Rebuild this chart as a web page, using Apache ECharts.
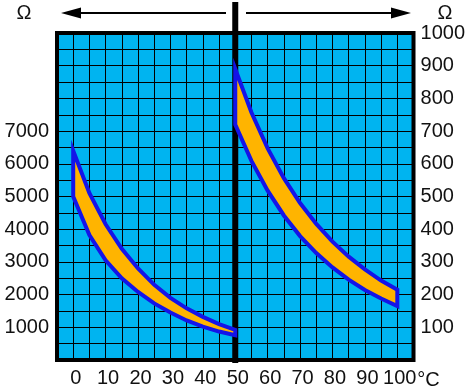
<!DOCTYPE html>
<html><head><meta charset="utf-8">
<script src="https://cdn.jsdelivr.net/npm/echarts@6/dist/echarts.min.js"></script>
<style>html,body{margin:0;padding:0;background:#fff}#c{width:468px;height:388px}</style>
</head><body><div id="c"></div>
<script>
// Temperature (°C) sample points
const tempLeft = [0, 5, 10, 15, 20, 25, 30, 35, 40, 45, 50];
const upperLeft = [6400, 5100, 4150, 3400, 2800, 2300, 1900, 1580, 1320, 1100, 920];
const lowerLeft = [5000, 3820, 3050, 2500, 2080, 1730, 1450, 1210, 1020, 870, 760];
const tempRight = [50, 55, 60, 65, 70, 75, 80, 85, 90, 95, 100];
const upperRight = [890, 757, 647, 556, 480, 416, 362, 316, 277, 243, 215];
const lowerRight = [720, 609, 518, 442, 379, 327, 283, 246, 214, 188, 165];
const xTicks = [0, 10, 20, 30, 40, 50, 60, 70, 80, 90, 100];
const leftTicks = [1000, 2000, 3000, 4000, 5000, 6000, 7000];
const rightTicks = [100, 200, 300, 400, 500, 600, 700, 800, 900, 1000];

const FONT = "'Liberation Sans', Arial, sans-serif";
const chart = echarts.init(document.getElementById('c'), null, {renderer: 'canvas'});

function band(temps, upper, lower, yIdx) {
  return {
    type: 'custom', xAxisIndex: 0, yAxisIndex: yIdx, z: 10, clip: false,
    data: [[0]],
    renderItem(params, api) {
      const pts = [];
      for (let i = 0; i < temps.length; i++) pts.push(api.coord([temps[i], upper[i]]));
      for (let i = temps.length - 1; i >= 0; i--) pts.push(api.coord([temps[i], lower[i]]));
      return {type: 'polygon', shape: {points: pts},
        style: {fill: '#ffb400', stroke: '#1414e8', lineWidth: 4, lineJoin: 'miter'}};
    }
  };
}

const labelStyle = {color: '#111', fontSize: 20, fontFamily: FONT};

chart.setOption({
  animation: false,
  grid: {left: 57, right: 53, top: 33, bottom: 27, show: true,
    backgroundColor: '#00b4f0', borderColor: '#000', borderWidth: 4, z: 0},
  xAxis: {type: 'value', min: -5, max: 105, interval: 5,
    axisLine: {show: false}, axisTick: {show: false},
    splitLine: {show: true, lineStyle: {color: '#000', width: 1}},
    axisLabel: Object.assign({margin: 8, padding: [0, 0, 0, 5],
      formatter: v => xTicks.includes(v) ? String(v) : ''}, labelStyle)},
  yAxis: [
    {type: 'value', position: 'left', min: 0, max: 10000, interval: 500,
      axisLine: {show: false}, axisTick: {show: false},
      splitLine: {show: true, lineStyle: {color: '#000', width: 1}},
      axisLabel: Object.assign({margin: 8,
        formatter: v => leftTicks.includes(v) ? String(v) : ''}, labelStyle)},
    {type: 'value', position: 'right', min: 0, max: 1000, interval: 50,
      axisLine: {show: false}, axisTick: {show: false}, splitLine: {show: false},
      axisLabel: Object.assign({margin: 7,
        formatter: v => rightTicks.includes(v) ? String(v) : ''}, labelStyle)}
  ],
  series: [band(tempLeft, upperLeft, lowerLeft, 0), band(tempRight, upperRight, lowerRight, 1)]
});

const x50 = chart.convertToPixel({xAxisIndex: 0}, 50);
const x100 = chart.convertToPixel({xAxisIndex: 0}, 100);
const ay = 13;
chart.setOption({
  graphic: [
    {type: 'line', z: 5, shape: {x1: x50, y1: 2, x2: x50, y2: 363}, style: {stroke: '#000', lineWidth: 6}},
    {type: 'line', z: 5, shape: {x1: 78, y1: ay, x2: 226, y2: ay}, style: {stroke: '#000', lineWidth: 2}},
    {type: 'polygon', z: 5, shape: {points: [[61, ay], [81, ay - 5.5], [81, ay + 5.5]]}, style: {fill: '#000'}},
    {type: 'line', z: 5, shape: {x1: 246, y1: ay, x2: 394, y2: ay}, style: {stroke: '#000', lineWidth: 2}},
    {type: 'polygon', z: 5, shape: {points: [[411, ay], [391, ay - 5.5], [391, ay + 5.5]]}, style: {fill: '#000'}},
    {type: 'text', z: 5, style: {text: 'Ω', x: 24, y: ay, align: 'center', verticalAlign: 'middle', fontSize: 20, fontFamily: FONT, fill: '#111'}},
    {type: 'text', z: 5, style: {text: 'Ω', x: 445, y: ay, align: 'center', verticalAlign: 'middle', fontSize: 20, fontFamily: FONT, fill: '#111'}},
    {type: 'text', z: 5, style: {text: '°C', x: x100 + 20, y: 380, align: 'left', verticalAlign: 'middle', fontSize: 20, fontFamily: FONT, fill: '#111'}}
  ]
});
</script></body></html>
